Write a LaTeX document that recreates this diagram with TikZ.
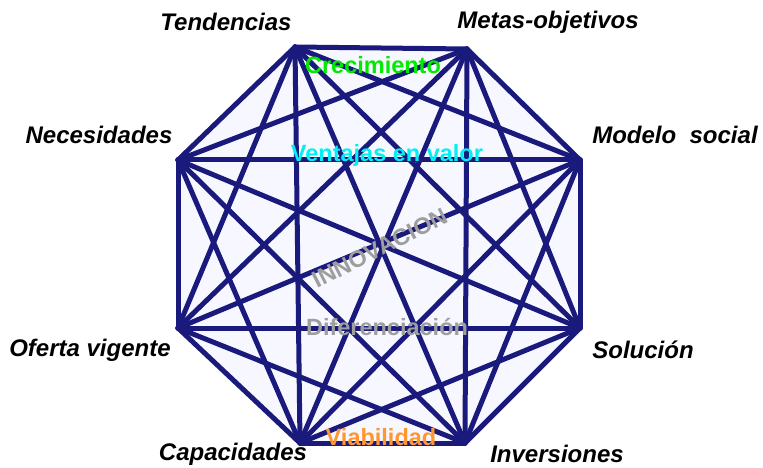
\documentclass[tikz,border=0pt]{standalone}
\usepackage{fontspec}
\setmainfont{Liberation Sans}
\usepackage{xcolor}
\usetikzlibrary{positioning}
\definecolor{navy}{RGB}{26,26,125}
\definecolor{viab}{RGB}{255,150,50}
\definecolor{crecc}{RGB}{0,235,0}
\definecolor{ventc}{RGB}{0,240,245}
\definecolor{grisc}{RGB}{158,158,158}

\begin{document}
\begin{tikzpicture}[x=1pt,y=-1pt]
  \tikzset{
    lab/.style={font=\fontsize{24}{28}\selectfont\bfseries\itshape,text=black,inner sep=0pt},
    inlab/.style={font=\fontsize{23.5}{27}\selectfont\bfseries,inner sep=0pt},
    edge/.style={draw=navy,line width=5pt,line cap=round,line join=round}}
  \useasboundingbox (0,0) rectangle (763,468);
  % octagon corners
  \coordinate (v1) at (295,47);
  \coordinate (v2) at (467,49);
  \coordinate (v3) at (580,160);
  \coordinate (v4) at (580,328);
  \coordinate (v5) at (465,443);
  \coordinate (v6) at (300,443);
  \coordinate (v7) at (178,328);
  \coordinate (v8) at (178,160);
  \fill[blue!3] (v1)--(v2)--(v3)--(v4)--(v5)--(v6)--(v7)--(v8)--cycle;
  \foreach \i in {1,...,8}
    \foreach \j in {1,...,8}
      {\ifnum\i<\j \draw[edge] (v\i) -- (v\j); \fi}
  % outer labels
  \node[lab] (tend) at (226,22){Tendencias};
  \node[lab] (metas) at (548,22){Metas-objetivos};
  \node[lab] (neces) at (99,135){Necesidades};
  \node[lab] (modelo) at (675,135){Modelo\ \ social};
  \node[lab] (oferta) at (90,350){Oferta vigente};
  \node[lab] (solu) at (643,350){Solución};
  \node[lab] (capac) at (233,454){Capacidades};
  \node[lab] (inver) at (557,454){Inversiones};
  % inner labels
  \node[inlab,text=crecc] (crec) at (373,65){Crecimiento};
  \node[inlab,text=ventc] (venta) at (387,155){Ventajas en valor};
  \node[inlab,text=grisc,rotate=27] (innov) at (380,248){INNOVACION};
  \node[inlab,text=grisc] (difer) at (387,327){Diferenciación};
  \node[inlab,text=viab] (viabi) at (381,437){Viabilidad};
\end{tikzpicture}
\end{document}
